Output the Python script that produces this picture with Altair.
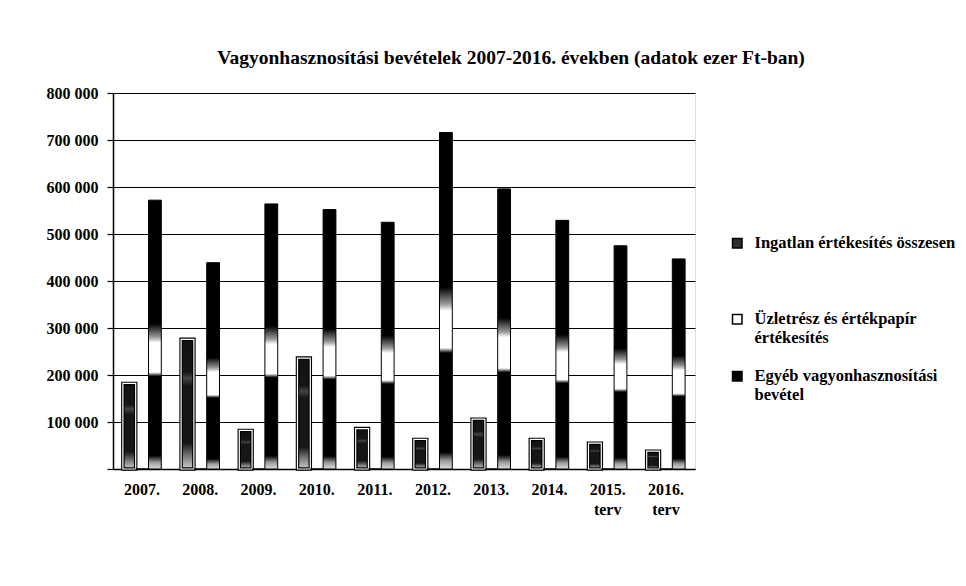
import altair as alt
import pandas as pd

years = ["2007.", "2008.", "2009.", "2010.", "2011.", "2012.", "2013.", "2014.", "2015. terv", "2016. terv"]
series = ["Ingatlan értékesítés összesen",
          "Üzletrész és értékpapír értékesítés",
          "Egyéb vagyonhasznosítási bevétel"]
ingatlan = [182000, 276000, 82000, 236000, 86000, 63000, 106000, 63000, 55000, 38000]
uzletresz = [0, 0, 0, 0, 0, 0, 0, 0, 0, 0]
egyeb = [572000, 439000, 564000, 552000, 525000, 716000, 596000, 529000, 475000, 447000]
y_ticks = [0, 100000, 200000, 300000, 400000, 500000, 600000, 700000, 800000]

rows = []
for i, ev in enumerate(years):
    rows.append({"ev": ev, "sorozat": series[0], "ertek": ingatlan[i]})
    rows.append({"ev": ev, "sorozat": series[1], "ertek": uzletresz[i]})
    rows.append({"ev": ev, "sorozat": series[2], "ertek": egyeb[i]})
df = pd.DataFrame(rows)

FONT = "Liberation Serif"

x_enc = alt.X("ev:N", sort=years,
              scale=alt.Scale(paddingInner=0.34, paddingOuter=0.17),
              axis=alt.Axis(title=None, labelAngle=0, ticks=False,
                            labelExpr="split(datum.label, ' ')",
                            labelPadding=12, labelLineHeight=20,
                            labelFont=FONT, labelFontSize=16, labelFontWeight="bold",
                            labelColor="black", domainColor="black", domainWidth=1.5,
                            grid=False))
xo_enc = alt.XOffset("sorozat:N", sort=series,
                     scale=alt.Scale(domain=series, paddingInner=0, paddingOuter=0))
y_enc = alt.Y("ertek:Q",
              scale=alt.Scale(domain=[0, 800000], nice=False),
              axis=alt.Axis(title=None, values=y_ticks,
                            labelExpr="datum.value == 0 ? '' : replace(format(datum.value, ','), ',', ' ')",
                            tickSize=6, tickColor="black", tickWidth=1.2, labelPadding=9,
                            labelFont=FONT, labelFontSize=16, labelFontWeight="bold",
                            labelColor="black", domainColor="black", domainWidth=1.5,
                            grid=True, gridColor="black", gridWidth=1, gridOpacity=1))

base = alt.Chart(df).encode(x=x_enc, xOffset=xo_enc, y=y_enc)

grad_ing = alt.Gradient(gradient="linear", x1=0, x2=0, y1=0, y2=1, stops=[
    alt.GradientStop(color="#111111", offset=0),
    alt.GradientStop(color="#161616", offset=0.25),
    alt.GradientStop(color="#444444", offset=0.3),
    alt.GradientStop(color="#161616", offset=0.36),
    alt.GradientStop(color="#161616", offset=0.8),
    alt.GradientStop(color="#777777", offset=0.9),
    alt.GradientStop(color="#cfcfcf", offset=1),
])
grad_egy = alt.Gradient(gradient="linear", x1=0, x2=0, y1=0, y2=1, stops=[
    alt.GradientStop(color="#000000", offset=0),
    alt.GradientStop(color="#000000", offset=0.46),
    alt.GradientStop(color="#9a9a9a", offset=0.51),
    alt.GradientStop(color="#ffffff", offset=0.53),
    alt.GradientStop(color="#ffffff", offset=0.64),
    alt.GradientStop(color="#000000", offset=0.655),
    alt.GradientStop(color="#000000", offset=0.95),
    alt.GradientStop(color="#9a9a9a", offset=0.975),
    alt.GradientStop(color="#dddddd", offset=1),
])

ing_bars = base.transform_filter(alt.datum.sorozat == series[0]).mark_bar(
    fill=grad_ing, stroke="black", strokeWidth=3.5)
ing_edge = base.transform_filter(alt.datum.sorozat == series[0]).mark_bar(
    filled=False, stroke="white", strokeWidth=1.2)
egy_bars = base.transform_filter(alt.datum.sorozat == series[2]).mark_bar(
    fill=grad_egy, stroke="black", strokeWidth=1)

legend_expr = ("datum.label == '" + series[0] + "' ? ['Ingatlan értékesítés összesen', '', '', ''] : "
               "datum.label == '" + series[1] + "' ? ['Üzletrész és értékpapír', 'értékesítés', ''] : "
               "['Egyéb vagyonhasznosítási', 'bevétel', '']")

uz_bars = base.transform_filter(alt.datum.sorozat == series[1]).mark_bar(
    stroke="black", strokeWidth=1).encode(
    color=alt.Color("sorozat:N",
                    scale=alt.Scale(domain=series, range=["#2e2e2e", "#ffffff", "#000000"]),
                    legend=alt.Legend(title=None, orient="none", legendX=616, legendY=142,
                                      direction="vertical", symbolType="square",
                                      symbolSize=90, symbolStrokeColor="black",
                                      symbolStrokeWidth=1.5, symbolOpacity=1,
                                      labelExpr=legend_expr, labelBaseline="middle",
                                      labelFont=FONT, labelFontSize=16.5, labelFontWeight="bold",
                                      labelColor="black", labelOffset=9, labelLimit=400,
                                      rowPadding=3, padding=0)))

chart = alt.layer(ing_bars, ing_edge, egy_bars, uz_bars).properties(
    width=582, height=376,
    title=alt.Title("Vagyonhasznosítási bevételek 2007-2016. években (adatok ezer Ft-ban)",
                    font=FONT, fontSize=19.5, fontWeight="bold", color="black",
                    offset=17, anchor="middle", dx=107),
    padding={"left": 38, "top": 39, "right": 0, "bottom": 10},
).configure_view(stroke="black", strokeWidth=1.5).configure(background="white")

chart.save("out.html", embed_options={"renderer": "svg", "actions": False})
